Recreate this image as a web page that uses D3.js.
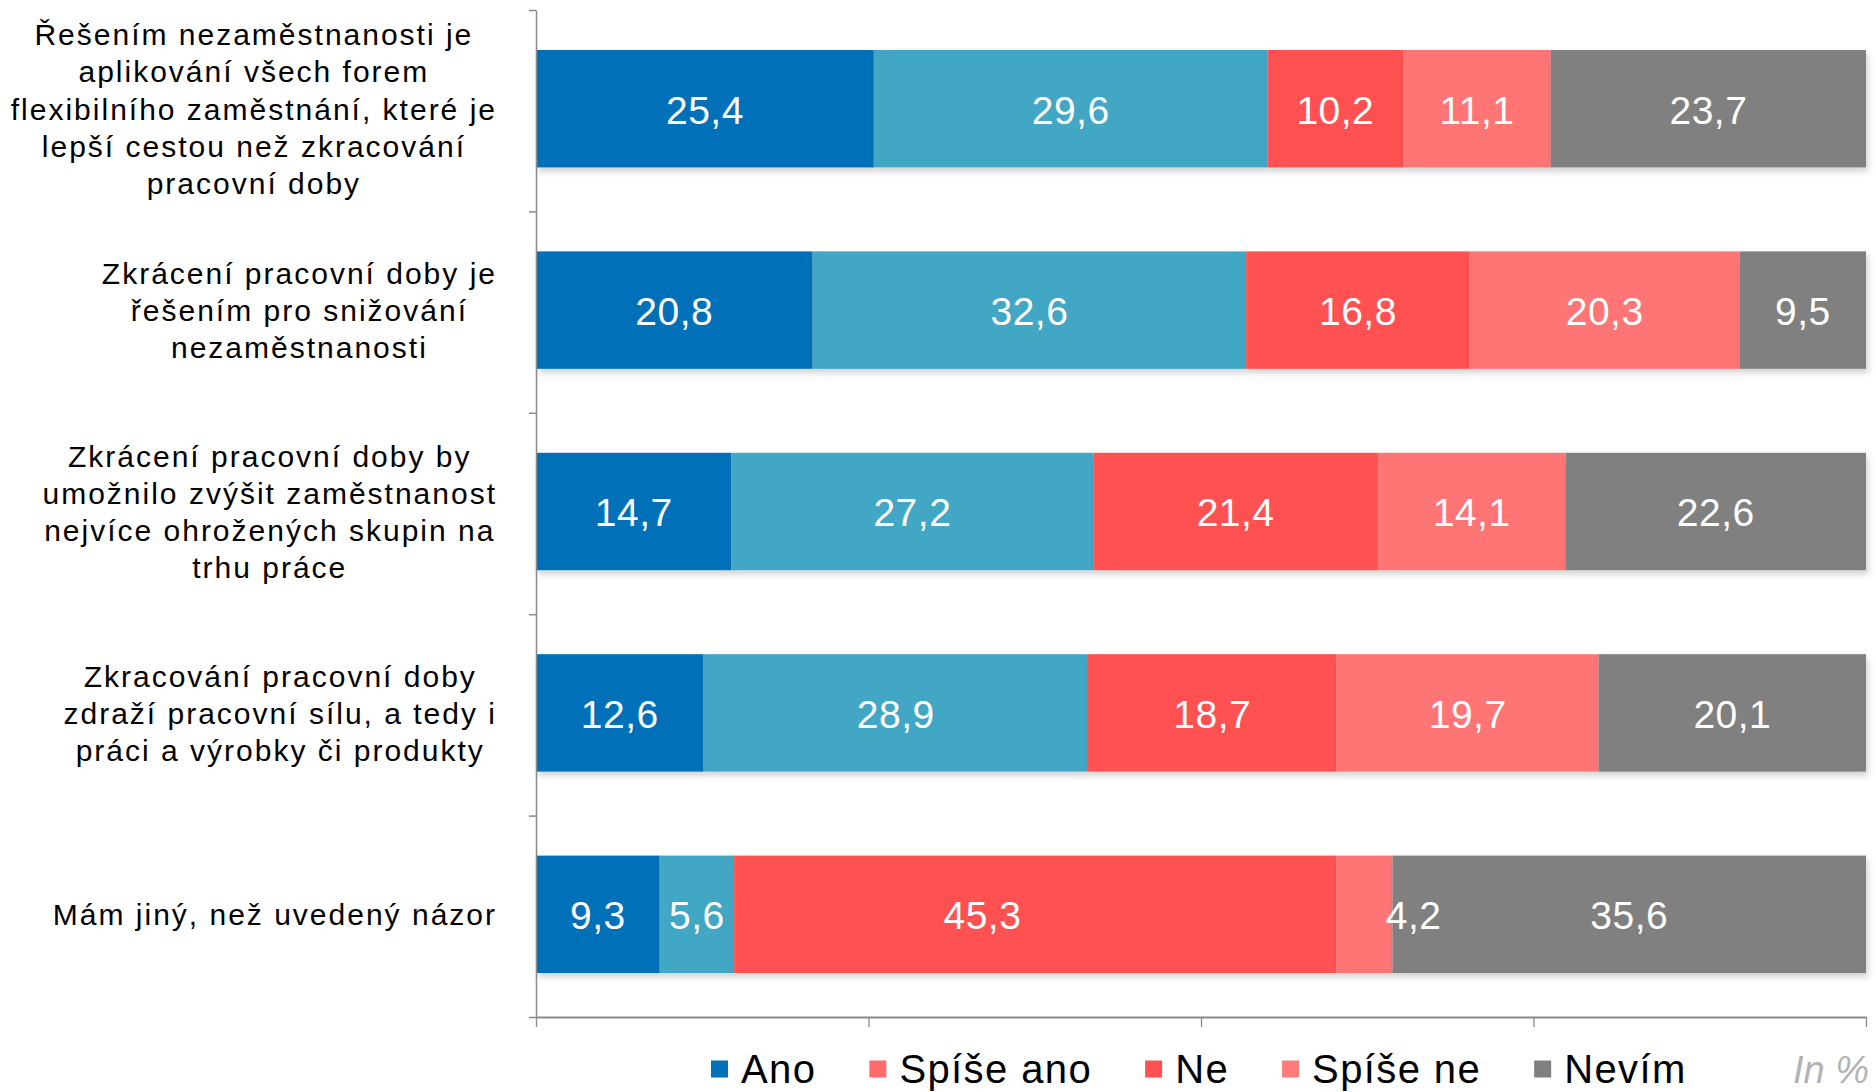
<!DOCTYPE html>
<html>
<head>
<meta charset="utf-8">
<script src="https://cdn.jsdelivr.net/npm/d3@7"></script>
<style>
  body { margin: 0; background: #fff; }
  svg { display: block; font-family: "Liberation Sans", Arial, sans-serif; }
</style>
</head>
<body>
<div id="chart"></div>
<script>
// categories (y axis), each label already wrapped into lines
var categories = ["q1", "q2", "q3", "q4", "q5"];
var categoryLines = [
    ["Řešením nezaměstnanosti je", "aplikování všech forem", "flexibilního zaměstnání, které je", "lepší cestou než zkracování", "pracovní doby"],
    ["Zkrácení pracovní doby je", "řešením pro snižování", "nezaměstnanosti"],
    ["Zkrácení pracovní doby by", "umožnilo zvýšit zaměstnanost", "nejvíce ohrožených skupin na", "trhu práce"],
    ["Zkracování pracovní doby", "zdraží pracovní sílu, a tedy i", "práci a výrobky či produkty"],
    ["Mám jiný, než uvedený názor"]
];

// series names and values (in %)
var seriesNames = ["Ano", "Spíše ano", "Ne", "Spíše ne", "Nevím"];
var ano = [25.4, 20.8, 14.7, 12.6, 9.3];
var spiseAno = [29.6, 32.6, 27.2, 28.9, 5.6];
var ne = [10.2, 16.8, 21.4, 18.7, 45.3];
var spiseNe = [11.1, 20.3, 14.1, 19.7, 4.2];
var nevim = [23.7, 9.5, 22.6, 20.1, 35.6];

var xTicks = [0, 25, 50, 75, 100];

// colours
var barColors = ["#0070b9", "#43a7c5", "#ff5151", "#ff7575", "#808080"];
var legendColors = ["#0070b9", "#ff6a6a", "#ff5151", "#ff7a7a", "#808080"];

// labels that were dragged away from the segment centre (px)
var labelNudges = [
    { cat: "q5", key: "Ne", dx: -53 },
    { cat: "q5", key: "Spíše ne", dx: 49 }
];

var width = 1876, height = 1092;
var plotLeft = 536, plotRight = 1866, plotTop = 10, plotBottom = 1017;

var svg = d3.select("#chart")
    .append("svg")
    .attr("width", width)
    .attr("height", height);

// soft shadow under the bars
var defs = svg.append("defs");
defs.append("filter")
    .attr("id", "shadow")
    .attr("x", "-5%").attr("y", "-20%")
    .attr("width", "110%").attr("height", "150%")
    .append("feDropShadow")
    .attr("dx", 2).attr("dy", 4)
    .attr("stdDeviation", 3)
    .attr("flood-color", "#000")
    .attr("flood-opacity", 0.18);

// build the table for d3.stack
var table = categories.map(function (c, i) {
    return { cat: c, "Ano": ano[i], "Spíše ano": spiseAno[i], "Ne": ne[i], "Spíše ne": spiseNe[i], "Nevím": nevim[i] };
});
var stacked = d3.stack().keys(seriesNames)(table);

// scales
var x = d3.scaleLinear()
    .domain([0, 100])
    .range([plotLeft, plotRight]);

var y = d3.scaleBand()
    .domain(categories)
    .range([plotTop - 2, plotBottom - 2])
    .paddingInner(0.417)
    .paddingOuter(0.2085);

// index scale for the category boundary ticks
var yEdge = d3.scaleLinear()
    .domain([0, categories.length])
    .range([plotTop, plotBottom]);

var czFormat = d3.formatLocale({ decimal: ",", thousands: " ", grouping: [3], currency: ["", " Kč"] }).format(".1f");

function nudge(cat, key) {
    var n = labelNudges.find(function (m) { return m.cat == cat && m.key == key; });
    return n ? n.dx : 0;
}

// bars
var rows = svg.append("g");
stacked.forEach(function (layer, si) {
    rows.append("g")
        .attr("filter", "url(#shadow)")
        .selectAll("rect")
        .data(layer)
        .join("rect")
        .attr("x", function (d) { return x(d[0]); })
        .attr("y", function (d) { return y(d.data.cat); })
        .attr("width", function (d) { return x(d[1]) - x(d[0]); })
        .attr("height", y.bandwidth())
        .attr("fill", barColors[si]);
});

// value labels
stacked.forEach(function (layer) {
    rows.append("g")
        .selectAll("text")
        .data(layer)
        .join("text")
        .attr("x", function (d) { return (x(d[0]) + x(d[1])) / 2 + nudge(d.data.cat, layer.key); })
        .attr("y", function (d) { return y(d.data.cat) + y.bandwidth() / 2; })
        .attr("dy", "0.38em")
        .attr("text-anchor", "middle")
        .attr("fill", "#fff")
        .style("font-size", "39px")
        .style("letter-spacing", "0.5px")
        .text(function (d) { return czFormat(d[1] - d[0]); });
});

// y axis (category boundaries)
svg.append("g")
    .attr("transform", "translate(" + plotLeft + ",0)")
    .call(d3.axisLeft(yEdge).tickValues(d3.range(categories.length + 1)).tickFormat("").tickSizeInner(7).tickSizeOuter(0))
    .call(function (g) {
        g.selectAll("path, line").attr("stroke", "#8a8a8a").attr("stroke-width", 1.5);
    });

// x axis
svg.append("g")
    .attr("transform", "translate(0," + plotBottom + ")")
    .call(d3.axisBottom(x).tickValues(xTicks).tickFormat("").tickSizeInner(10).tickSizeOuter(0))
    .call(function (g) {
        g.select("path").attr("stroke", "#8a8a8a").attr("stroke-width", 2);
        g.selectAll("line").attr("stroke", "#8a8a8a").attr("stroke-width", 1.3);
    });

// category labels: centred lines, block right-aligned to the axis
var labelRight = 497, lineHeight = 37.1;
categoryLines.forEach(function (lines, i) {
    var cy = y(categories[i]) + y.bandwidth() / 2;
    var t = svg.append("text")
        .attr("text-anchor", "middle")
        .attr("fill", "#000")
        .style("font-size", "30px")
        .style("letter-spacing", "2px");
    lines.forEach(function (ln, j) {
        t.append("tspan")
            .attr("y", cy + (j - (lines.length - 1) / 2) * lineHeight)
            .attr("dy", "0.36em")
            .text(ln);
    });
    var maxW = 0;
    t.selectAll("tspan").each(function () {
        maxW = Math.max(maxW, this.getComputedTextLength());
    });
    t.selectAll("tspan").attr("x", labelRight - maxW / 2);
});

// legend
var legend = svg.append("g");
var lx = 711, ly = 1069;
seriesNames.forEach(function (name, i) {
    legend.append("rect")
        .attr("x", lx)
        .attr("y", ly - 8.5)
        .attr("width", 17)
        .attr("height", 17)
        .attr("fill", legendColors[i]);
    var t = legend.append("text")
        .attr("x", lx + 30)
        .attr("y", ly)
        .attr("dy", "0.36em")
        .attr("fill", "#000")
        .style("font-size", "40px")
        .style("letter-spacing", "1.4px")
        .text(name);
    lx = lx + 30 + t.node().getComputedTextLength() + 53;
});

legend.append("text")
    .attr("x", 1869)
    .attr("y", ly)
    .attr("dy", "0.36em")
    .attr("text-anchor", "end")
    .attr("fill", "#b3b3b3")
    .style("font-size", "38px")
    .style("font-style", "italic")
    .text("In %");
</script>
</body>
</html>
